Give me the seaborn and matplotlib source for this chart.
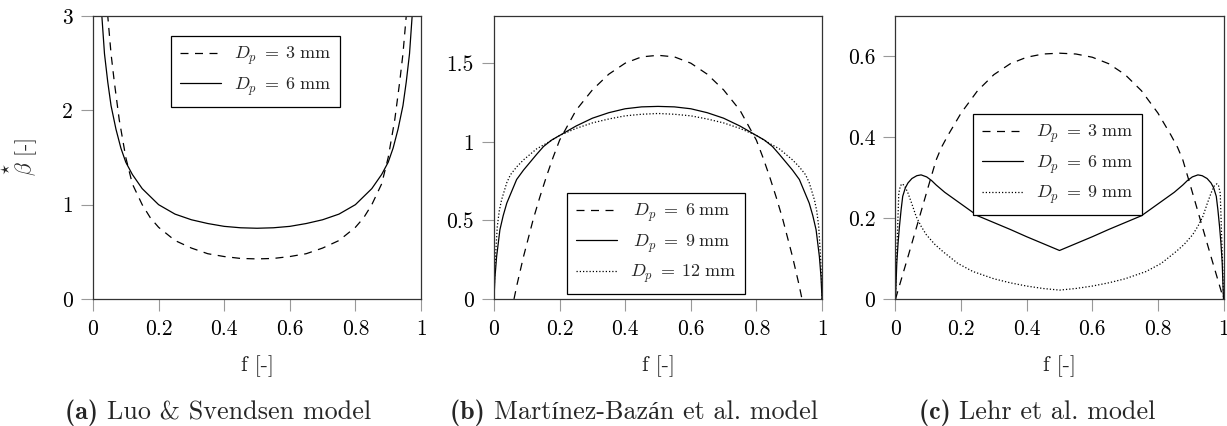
import numpy as np
import pandas as pd
import matplotlib
matplotlib.use("Agg")
import matplotlib.pyplot as plt
import seaborn as sns

# ---------------- data ----------------
# (a) Luo & Svendsen model
luo_f_3mm = [0.035, 0.045, 0.055, 0.065, 0.08, 0.1, 0.12, 0.15, 0.175, 0.2, 0.25, 0.3, 0.35, 0.4, 0.45, 0.5,
             0.55, 0.6, 0.65, 0.7, 0.75, 0.8, 0.825, 0.85, 0.88, 0.9, 0.92, 0.935, 0.945, 0.955, 0.965]
luo_b_3mm = [3.6, 3.0, 2.6, 2.3, 1.9, 1.5, 1.22, 1.0, 0.86, 0.76, 0.62, 0.54, 0.48, 0.45, 0.43, 0.425,
             0.43, 0.45, 0.48, 0.54, 0.62, 0.76, 0.86, 1.0, 1.22, 1.5, 1.9, 2.3, 2.6, 3.0, 3.6]
luo_f_6mm = [0.02, 0.027, 0.035, 0.045, 0.055, 0.07, 0.085, 0.1, 0.12, 0.15, 0.2, 0.25, 0.3, 0.35, 0.4, 0.45, 0.5,
             0.55, 0.6, 0.65, 0.7, 0.75, 0.8, 0.85, 0.88, 0.9, 0.915, 0.93, 0.945, 0.955, 0.965, 0.973, 0.98]
luo_b_6mm = [3.6, 3.0, 2.6, 2.3, 2.05, 1.8, 1.6, 1.45, 1.32, 1.17, 1.0, 0.9, 0.84, 0.8, 0.77, 0.755, 0.75,
             0.755, 0.77, 0.8, 0.84, 0.9, 1.0, 1.17, 1.32, 1.45, 1.6, 1.8, 2.05, 2.3, 2.6, 3.0, 3.6]

# (b) Martinez-Bazan et al. model
mb_f_6mm = [0.061, 0.07, 0.08, 0.09, 0.1, 0.12, 0.14, 0.16, 0.18, 0.2, 0.25, 0.3, 0.35, 0.4, 0.45, 0.5,
            0.55, 0.6, 0.65, 0.7, 0.75, 0.8, 0.82, 0.84, 0.86, 0.88, 0.9, 0.91, 0.92, 0.93, 0.939]
mb_b_6mm = [0.0, 0.09, 0.18, 0.27, 0.35, 0.51, 0.65, 0.78, 0.9, 1.01, 1.2, 1.33, 1.43, 1.5, 1.54, 1.55,
            1.54, 1.5, 1.43, 1.33, 1.2, 1.01, 0.9, 0.78, 0.65, 0.51, 0.35, 0.27, 0.18, 0.09, 0.0]
mb_f_9mm = [0.0, 0.003, 0.008, 0.018, 0.028, 0.039, 0.055, 0.069, 0.09, 0.11, 0.13, 0.151, 0.175, 0.2, 0.25, 0.3,
            0.35, 0.4, 0.45, 0.5, 0.55, 0.6, 0.65, 0.7, 0.75, 0.8, 0.825, 0.849, 0.87, 0.89, 0.91, 0.931,
            0.945, 0.961, 0.972, 0.982, 0.992, 0.997, 1.0]
mb_b_9mm = [0.0, 0.14, 0.27, 0.44, 0.53, 0.61, 0.69, 0.76, 0.82, 0.87, 0.92, 0.97, 1.01, 1.04, 1.1, 1.15,
            1.185, 1.21, 1.222, 1.225, 1.222, 1.21, 1.185, 1.15, 1.1, 1.04, 1.01, 0.97, 0.92, 0.87, 0.82, 0.76,
            0.69, 0.61, 0.53, 0.44, 0.27, 0.14, 0.0]
mb_f_12mm = [0.0, 0.002, 0.004, 0.01, 0.016, 0.023, 0.039, 0.05, 0.069, 0.09, 0.11, 0.13, 0.16, 0.2, 0.25, 0.3,
             0.35, 0.4, 0.45, 0.5, 0.55, 0.6, 0.65, 0.7, 0.75, 0.8, 0.84, 0.87, 0.89, 0.91, 0.931, 0.95,
             0.961, 0.977, 0.984, 0.99, 0.996, 0.998, 1.0]
mb_b_12mm = [0.0, 0.15, 0.25, 0.46, 0.56, 0.63, 0.74, 0.79, 0.84, 0.885, 0.92, 0.955, 0.99, 1.04, 1.085, 1.12,
             1.145, 1.165, 1.175, 1.18, 1.175, 1.165, 1.145, 1.12, 1.085, 1.04, 0.99, 0.955, 0.92, 0.885, 0.84,
             0.79, 0.74, 0.63, 0.56, 0.46, 0.25, 0.15, 0.0]

# (c) Lehr et al. model
lehr_f_3mm = [0.0, 0.02, 0.04, 0.06, 0.08, 0.1, 0.124, 0.14, 0.16, 0.2, 0.25, 0.3, 0.35, 0.4, 0.45, 0.5,
              0.55, 0.6, 0.65, 0.7, 0.75, 0.8, 0.84, 0.86, 0.876, 0.9, 0.92, 0.94, 0.96, 0.98, 1.0]
lehr_b_3mm = [0.0, 0.055, 0.11, 0.166, 0.222, 0.278, 0.344, 0.375, 0.405, 0.46, 0.515, 0.555, 0.582, 0.598, 0.606, 0.608,
              0.606, 0.598, 0.582, 0.555, 0.515, 0.46, 0.405, 0.375, 0.344, 0.278, 0.222, 0.166, 0.11, 0.055, 0.0]
lehr_f_6mm = [0.0, 0.004, 0.008, 0.012, 0.017, 0.022, 0.03, 0.038, 0.05, 0.065, 0.078, 0.095, 0.11, 0.124, 0.15,
              0.2, 0.25, 0.3, 0.35, 0.4, 0.45, 0.5,
              0.55, 0.6, 0.65, 0.7, 0.75, 0.8, 0.85, 0.876, 0.89, 0.905, 0.922, 0.935, 0.95,
              0.962, 0.97, 0.978, 0.983, 0.988, 0.992, 0.996, 1.0]
lehr_b_6mm = [0.0, 0.09, 0.14, 0.179, 0.22, 0.254, 0.275, 0.287, 0.298, 0.305, 0.307, 0.302, 0.293, 0.282, 0.264,
              0.235, 0.206, 0.189, 0.172, 0.154, 0.137, 0.12,
              0.137, 0.154, 0.172, 0.189, 0.206, 0.235, 0.264, 0.282, 0.293, 0.302, 0.307, 0.305, 0.298,
              0.287, 0.275, 0.254, 0.22, 0.179, 0.14, 0.09, 0.0]
lehr_f_9mm = [0.0, 0.002, 0.005, 0.01, 0.015, 0.02, 0.028, 0.038, 0.05, 0.063, 0.078, 0.094, 0.12, 0.145, 0.19,
              0.236, 0.3, 0.35, 0.4, 0.45, 0.5, 0.55, 0.6, 0.65, 0.7, 0.764, 0.81, 0.855, 0.88, 0.906,
              0.922, 0.937, 0.95, 0.962, 0.972, 0.98, 0.985, 0.99, 0.995, 0.998, 1.0]
lehr_b_9mm = [0.0, 0.07, 0.139, 0.262, 0.28, 0.285, 0.28, 0.262, 0.235, 0.204, 0.18, 0.159, 0.135, 0.117, 0.088,
              0.068, 0.05, 0.04, 0.032, 0.026, 0.022, 0.026, 0.032, 0.04, 0.05, 0.068, 0.088, 0.117, 0.135, 0.159,
              0.18, 0.204, 0.235, 0.262, 0.28, 0.285, 0.28, 0.262, 0.139, 0.07, 0.0]

x_ticks = [0, 0.2, 0.4, 0.6, 0.8, 1]
x_ticklabels = ["0", "0.2", "0.4", "0.6", "0.8", "1"]
a_yticks, a_yticklabels = [0, 1, 2, 3], ["0", "1", "2", "3"]
b_yticks, b_yticklabels = [0, 0.5, 1, 1.5], ["0", "0.5", "1", "1.5"]
c_yticks, c_yticklabels = [0, 0.2, 0.4, 0.6], ["0", "0.2", "0.4", "0.6"]

captions = [("(a)", "Luo & Svendsen model"),
            ("(b)", "Martínez-Bazán et al. model"),
            ("(c)", "Lehr et al. model")]

# ---------------- style ----------------
sns.set_theme(style="ticks")
SERIF = ["cmr10", "Liberation Serif", "DejaVu Serif"]
SERIF_BOLD = ["cmb10", "Liberation Serif", "DejaVu Serif"]
plt.rcParams["font.family"] = SERIF
plt.rcParams["mathtext.fontset"] = "cm"
plt.rcParams["axes.formatter.use_mathtext"] = True

DASHED = (0, (6.4, 5.2))
SOLID = "-"
DOTTED = (0, (1, 1.6))
LW = 0.9
TICK_FS = 15.5
LEG_FS = 13
CAP_FS = 18.8


def dp(n, pad=""):
    return r"$" + pad + r"D_p\;=\;" + n + r"\;\mathrm{mm}$"


fig = plt.figure(figsize=(12.27, 4.26), dpi=100)
W, H = 1227, 426
ax_left_px = [93, 494, 895.5]
ax_w_px, ax_top_px, ax_bot_px = 328, 16, 299
axes = [fig.add_axes([l / W, (H - ax_bot_px) / H, ax_w_px / W, (ax_bot_px - ax_top_px) / H])
        for l in ax_left_px]


def draw(ax, series, ylim, yticks, yticklabels, leg_anchor):
    for f, b, label, ls in series:
        df = pd.DataFrame({"f": f, "beta": b})
        sns.lineplot(data=df, x="f", y="beta", ax=ax, color="black", linestyle=ls,
                     linewidth=LW, label=label, sort=False, estimator=None)
    ax.set_xlim(0, 1)
    ax.set_ylim(*ylim)
    ax.set_xticks(x_ticks)
    ax.set_xticklabels(x_ticklabels)
    ax.set_yticks(yticks)
    ax.set_yticklabels(yticklabels)
    ax.tick_params(axis="both", direction="out", length=8.4, width=0.8, color="0.6",
                   labelsize=TICK_FS, pad=6, labelcolor="black")
    for s in ax.spines.values():
        s.set_visible(True)
        s.set_color("0.2")
        s.set_linewidth(0.9)
    ax.set_xlabel("f [-]", fontsize=TICK_FS)
    ax.xaxis.set_label_coords(0.5, -0.2)
    ax.set_ylabel("")
    leg = ax.legend(loc="upper left", bbox_to_anchor=leg_anchor, fontsize=LEG_FS,
                    frameon=True, fancybox=False, handlelength=2.3, handletextpad=0.7,
                    borderpad=0.5, labelspacing=0.45, borderaxespad=0)
    leg.get_frame().set_edgecolor("black")
    leg.get_frame().set_linewidth(0.9)
    leg.get_frame().set_alpha(1)


draw(axes[0],
     [(luo_f_3mm, luo_b_3mm, dp("3"), DASHED),
      (luo_f_6mm, luo_b_6mm, dp("6"), SOLID)],
     (0, 3), a_yticks, a_yticklabels, (0.237, 0.929))
draw(axes[1],
     [(mb_f_6mm, mb_b_6mm, dp("6", r"\:"), DASHED),
      (mb_f_9mm, mb_b_9mm, dp("9", r"\:"), SOLID),
      (mb_f_12mm, mb_b_12mm, dp("12"), DOTTED)],
     (0, 1.8), b_yticks, b_yticklabels, (0.222, 0.375))
draw(axes[2],
     [(lehr_f_3mm, lehr_b_3mm, dp("3"), DASHED),
      (lehr_f_6mm, lehr_b_6mm, dp("6"), SOLID),
      (lehr_f_9mm, lehr_b_9mm, dp("9"), DOTTED)],
     (0, 0.7), c_yticks, c_yticklabels, (0.235, 0.654))

axes[0].set_ylabel(r"$\overset{\star}{\beta}$ [-]", fontsize=TICK_FS)
axes[0].yaxis.set_label_coords(-0.163, 0.5)

# sub-figure captions, centred under each panel
caption_centers = [218, 634, 1037]
fig.canvas.draw()
r = fig.canvas.get_renderer()
for (tag, text), cx in zip(captions, caption_centers):
    t1 = fig.text(0, 0, tag + " ", fontsize=CAP_FS, family=SERIF_BOLD, va="baseline")
    t2 = fig.text(0, 0, text, fontsize=CAP_FS, family=SERIF, va="baseline")
    w1 = t1.get_window_extent(r).width
    w2 = t2.get_window_extent(r).width
    x0 = cx - (w1 + w2) / 2
    base = (H - 419) / H
    t1.set_position((x0 / W, base))
    t2.set_position(((x0 + w1) / W, base))

fig.savefig("out.png", dpi=100)
